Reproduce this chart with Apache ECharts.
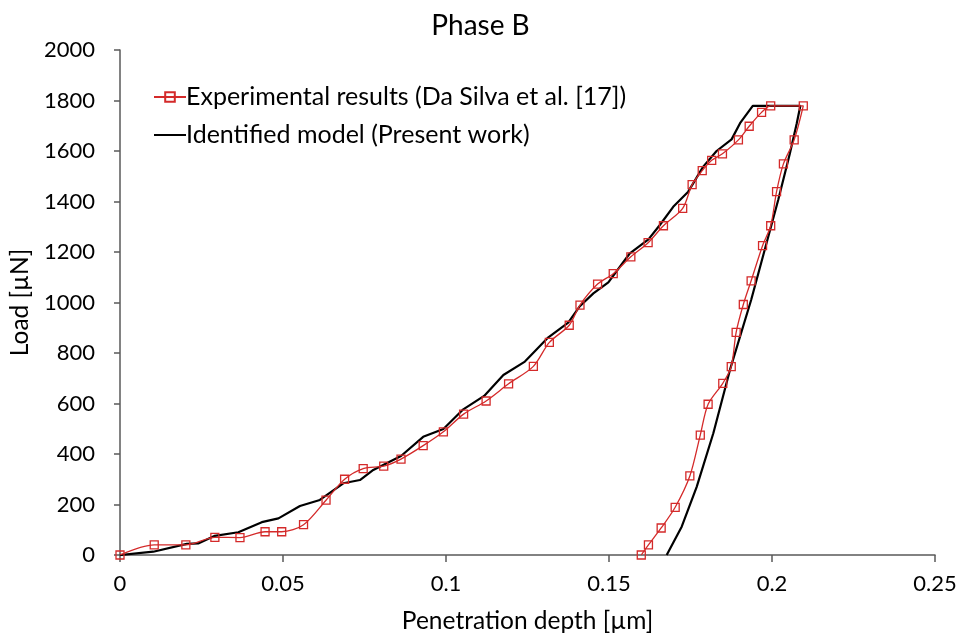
<!DOCTYPE html>
<html><head><meta charset="utf-8">
<script src="https://cdn.jsdelivr.net/npm/echarts@6/dist/echarts.min.js"></script>
<style>html,body{margin:0;padding:0;background:#fff}#c{width:961px;height:635px}</style>
</head><body><div id="c"></div>
<script>
const expDepth = [0,0.0105,0.0202,0.0291,0.0368,0.0445,0.0496,0.0563,0.0632,0.0689,0.0746,0.0809,0.0862,0.0930,0.0992,0.1054,0.1123,0.1192,0.1268,0.1317,0.1378,0.1411,0.1465,0.1513,0.1567,0.1620,0.1667,0.1726,0.1755,0.1786,0.1815,0.1848,0.1897,0.1930,0.1968,0.1996,0.2096,
  0.2068,0.2035,0.2014,0.1996,0.1971,0.1936,0.1912,0.1890,0.1875,0.1849,0.1804,0.1780,0.1748,0.1703,0.1660,0.1621,0.1599];
const expLoad = [0,40,40,70,69,92,92,120,217,300,342,352,380,433,488,558,610,678,747,842,910,990,1073,1114,1181,1237,1304,1373,1467,1522,1563,1589,1644,1698,1753,1779,1779,
  1644,1549,1439,1304,1225,1086,992,882,746,680,597,475,313,189,107,40,0];
const modelDepth = [0,0.0102,0.0205,0.0240,0.0291,0.0363,0.0435,0.0486,0.0552,0.0613,0.0685,0.0736,0.0777,0.0862,0.0930,0.0992,0.1053,0.1117,0.1176,0.1242,0.1314,0.1375,0.1409,0.1452,0.1498,0.1564,0.1621,0.1656,0.1697,0.1743,0.1789,0.1830,0.1876,0.1902,0.1941,0.2087,
  0.2076,0.2055,0.2019,0.1936,0.1871,0.1820,0.1769,0.1723,0.1677];
const modelLoad = [0,13,44,46,76,90,130,145,194,218,284,297,337,392,468,499,577,630,713,766,862,920,983,1036,1080,1195,1250,1307,1379,1439,1538,1600,1646,1710,1779,1779,
  1710,1591,1406,1010,733,482,270,112,0];
const xTicks = [0,0.05,0.1,0.15,0.2,0.25];
const yTicks = [0,200,400,600,800,1000,1200,1400,1600,1800,2000];
const titleText = 'Phase B';
const expName = 'Experimental results (Da Silva et al. [17])';
const modelName = 'Identified model (Present work)';

const FONT = 'Lato';
const RED = '#d42a2a';
const AX = '#595959';
const chart = echarts.init(document.getElementById('c'), null, {renderer:'canvas'});
chart.setOption({
  animation:false,
  title:{text:titleText,left:'center',top:7,textStyle:{fontFamily:FONT,fontSize:28,fontWeight:'normal',color:'#000'}},
  grid:{left:120,right:26,top:50,bottom:80,containLabel:false,outerBoundsMode:'none'},
  legend:{orient:'vertical',left:148,top:79,itemWidth:32,itemHeight:12,itemGap:12,
    textStyle:{fontFamily:FONT,fontSize:25,lineHeight:26,color:'#000',padding:[0,0,0,-5]},
    data:[expName,{name:modelName,icon:'path://M0,0L32,0L32,2L0,2Z',itemStyle:{color:'#000'}}]},
  xAxis:{type:'value',min:0,max:0.25,interval:0.05,
    name:'Penetration depth [µm]',nameLocation:'middle',nameGap:54,
    nameTextStyle:{fontFamily:FONT,fontSize:24.5,color:'#000'},
    axisLine:{lineStyle:{color:AX,width:1.5}},
    axisTick:{show:true,inside:false,length:7,lineStyle:{color:AX,width:1.5}},
    axisLabel:{fontFamily:FONT,fontSize:22,color:'#000',margin:18,
      formatter:v=>{const t=xTicks.find(x=>Math.abs(x-v)<1e-9);return t===undefined?'':String(t);}},
    splitLine:{show:false}},
  yAxis:{type:'value',min:0,max:2000,interval:200,
    name:'Load [µN]',nameLocation:'middle',nameGap:87,nameRotate:90,
    nameTextStyle:{fontFamily:FONT,fontSize:24.5,color:'#000'},
    axisLine:{show:true,lineStyle:{color:AX,width:1.5}},
    axisTick:{show:true,inside:false,length:6,lineStyle:{color:AX,width:1.5}},
    axisLabel:{fontFamily:FONT,fontSize:22,color:'#000',margin:25,
      formatter:v=>{const t=yTicks.find(x=>x===v);return t===undefined?'':String(t);}},
    splitLine:{show:false}},
  series:[
    {name:expName,type:'line',data:expDepth.map((d,i)=>[d,expLoad[i]]),
      smooth:0.3,symbol:'rect',symbolSize:8,showSymbol:true,
      lineStyle:{color:RED,width:1.3},
      itemStyle:{color:'rgba(255,255,255,0)',borderColor:RED,borderWidth:1.3},z:3},
    {name:modelName,type:'line',data:modelDepth.map((d,i)=>[d,modelLoad[i]]),
      smooth:false,symbol:'none',
      lineStyle:{color:'#000',width:2.2},itemStyle:{color:'#000'},z:2}
  ]
});
</script></body></html>
